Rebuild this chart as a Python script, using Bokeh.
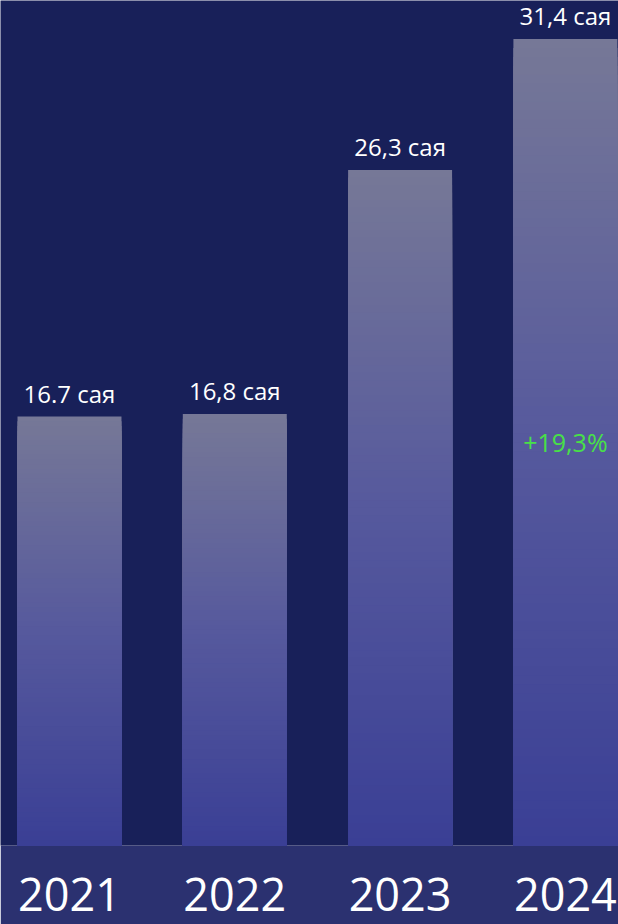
import numpy as np
from bokeh.plotting import figure
from bokeh.models import Range1d, ColumnDataSource, LabelSet, Label, FixedTicker
from bokeh.embed import file_html
from bokeh.resources import INLINE
from bokeh.core.properties import value

# ---- data ----
years = ["2021", "2022", "2023", "2024"]
values = [16.7, 16.8, 26.3, 31.4]
value_labels = ["16.7 сая", "16,8 сая", "26,3 сая", "31,4 сая"]
growth_label = "+19,3%"
growth_year = "2024"

# ---- style ----
BG = "#182059"
BAND = "#2b3170"
TOP_C = (0x76, 0x78, 0x97)
MID_C = (0x56, 0x59, 0x9d)
BOT_C = (0x3a, 0x3f, 0x95)

W, H = 618, 924
xs = list(range(len(years)))
bar_w = 0.629

p = figure(width=W, height=H, output_backend="svg", toolbar_location=None,
           x_range=Range1d(-0.4174, 3.3213), y_range=Range1d(0, 32.9),
           y_axis_location=None,
           min_border_left=0, min_border_right=0, min_border_top=0,
           min_border_bottom=79)
p.background_fill_color = BG
p.border_fill_color = BAND
p.outline_line_color = None
p.grid.visible = False


def lerp(c1, c2, t):
    return tuple(int(round(a + (b - a) * t)) for a, b in zip(c1, c2))


def grad(t):
    # t = 0 at bar top, 1 at bar bottom
    if t < 0.5:
        c = lerp(TOP_C, MID_C, t / 0.5)
    else:
        c = lerp(MID_C, BOT_C, (t - 0.5) / 0.5)
    return "#%02x%02x%02x" % c


# gradient bars: overlapping layers from full height down to the base
n = 90
L, R, B, T, C = [], [], [], [], []
for x, v in zip(xs, values):
    for k in range(n - 1, -1, -1):
        L.append(x - bar_w / 2)
        R.append(x + bar_w / 2)
        B.append(0)
        T.append(v * (k + 1) / n)
        C.append(grad(1 - (k + 0.5) / n))
p.quad(left=L, right=R, bottom=B, top=T, fill_color=C, line_color=None)

src = ColumnDataSource(dict(x=xs, v=values, lbl=value_labels))
p.add_layout(LabelSet(x="x", y="v", text="lbl", source=src, text_align="center",
                      text_baseline="alphabetic", y_offset=14, text_color="white",
                      text_font=value("Open Sans"), text_font_size="24px"))

gi = years.index(growth_year)
p.add_layout(Label(x=xs[gi], y=values[gi] / 2, text=growth_label, text_align="center",
                   text_baseline="middle", text_color="#48e048",
                   text_font="Open Sans", text_font_size="25px"))

ax = p.xaxis[0]
ax.ticker = FixedTicker(ticks=xs)
ax.major_label_overrides = {x: y for x, y in zip(xs, years)}
ax.major_tick_line_color = None
ax.minor_tick_line_color = None
ax.axis_line_color = None
ax.major_label_text_color = "white"
ax.major_label_text_font = "Open Sans"
ax.major_label_text_font_size = "45px"
ax.major_label_standoff = 26

open("out.html", "w").write(file_html(p, INLINE))
